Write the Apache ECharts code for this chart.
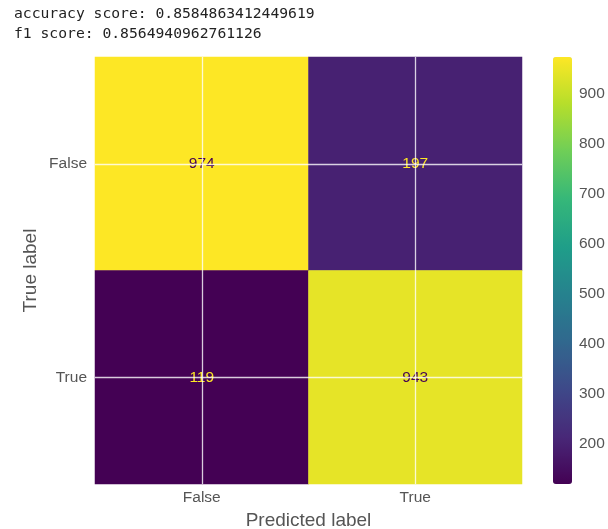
<!DOCTYPE html>
<html>
<head>
<meta charset="utf-8">
<script src="https://cdn.jsdelivr.net/npm/echarts@6/dist/echarts.min.js"></script>
<style>
  html, body { margin: 0; padding: 0; background: #fff; }
  #chart { width: 608px; height: 529px; }
</style>
</head>
<body>
<div id="chart"></div>
<script>
// Confusion matrix values (rows = true label, columns = predicted label)
const predictedLabels = ['False', 'True'];
const trueLabels = ['False', 'True'];
const matrixRows = [
  [974, 197],
  [119, 943]
];
const colorbarTicks = [200, 300, 400, 500, 600, 700, 800, 900];
const scoreLines = [
  'accuracy score: 0.8584863412449619',
  'f1 score: 0.8564940962761126'
];

// viridis colour stops
const viridis = ['#440154', '#482878', '#3e4989', '#31688e', '#26828e',
                 '#1f9e89', '#35b779', '#6ece58', '#b5de2b', '#fde725'];

let vMin = Infinity, vMax = -Infinity;
matrixRows.forEach(r => r.forEach(v => { vMin = Math.min(vMin, v); vMax = Math.max(vMax, v); }));
const threshold = (vMin + vMax) / 2;

const cells = [];
matrixRows.forEach((row, yi) => row.forEach((v, xi) => {
  cells.push({
    value: [xi, yi, v],
    label: { color: v < threshold ? viridis[viridis.length - 1] : viridis[0] }
  });
}));

const tickFont = { color: '#555', fontSize: 15.5, fontFamily: 'Liberation Sans' };

const chart = echarts.init(document.getElementById('chart'), null, { renderer: 'canvas' });
chart.setOption({
  backgroundColor: '#fff',
  animation: false,
  graphic: scoreLines.map((t, i) => ({
    type: 'text',
    left: 14,
    top: 7 + i * 20,
    style: { text: t, fill: '#222', font: '14.7px "DejaVu Sans Mono"' }
  })),
  grid: [
    { left: 95, top: 57, width: 427, height: 427, outerBoundsMode: 'none', containLabel: false },
    { left: 553, top: 57, width: 19, height: 427, outerBoundsMode: 'none', containLabel: false }
  ],
  xAxis: [
    {
      type: 'category', gridIndex: 0, data: predictedLabels,
      axisLine: { show: false }, axisTick: { show: false }, splitLine: { show: false },
      axisLabel: Object.assign({ margin: 6 }, tickFont),
      name: 'Predicted label', nameLocation: 'middle', nameGap: 27, nameMoveOverlap: false,
      nameTextStyle: { color: '#555', fontSize: 19, fontFamily: 'Liberation Sans' }
    },
    { type: 'value', gridIndex: 1, show: false, min: 0, max: 1 }
  ],
  yAxis: [
    {
      type: 'category', gridIndex: 0, data: trueLabels, inverse: true,
      axisLine: { show: false }, axisTick: { show: false }, splitLine: { show: false },
      axisLabel: Object.assign({ margin: 8 }, tickFont),
      name: 'True label', nameLocation: 'middle', nameGap: 55, nameMoveOverlap: false,
      nameTextStyle: { color: '#555', fontSize: 19, fontFamily: 'Liberation Sans' }
    },
    {
      type: 'value', gridIndex: 1, position: 'right', min: vMin, max: vMax,
      axisLine: { show: false }, axisTick: { show: false }, splitLine: { show: false },
      axisLabel: Object.assign({ margin: 7, customValues: colorbarTicks }, tickFont)
    }
  ],
  visualMap: {
    type: 'continuous', seriesIndex: 0, min: vMin, max: vMax,
    calculable: false, realtime: false,
    left: 553, top: 57, itemWidth: 19, itemHeight: 427, padding: 0,
    inRange: { color: viridis },
    hoverLink: false
  },
  series: [
    {
      type: 'heatmap', xAxisIndex: 0, yAxisIndex: 0, data: cells,
      label: { show: true, fontSize: 15.5, fontFamily: 'Liberation Sans' },
      emphasis: { disabled: true },
      markLine: {
        silent: true, symbol: ['none', 'none'],
        label: { show: false },
        lineStyle: { color: '#fff', width: 1.3, type: 'solid', opacity: 0.8 },
        data: [{ xAxis: 0 }, { xAxis: 1 }, { yAxis: 0 }, { yAxis: 1 }]
      }
    }
  ]
});
</script>
</body>
</html>
